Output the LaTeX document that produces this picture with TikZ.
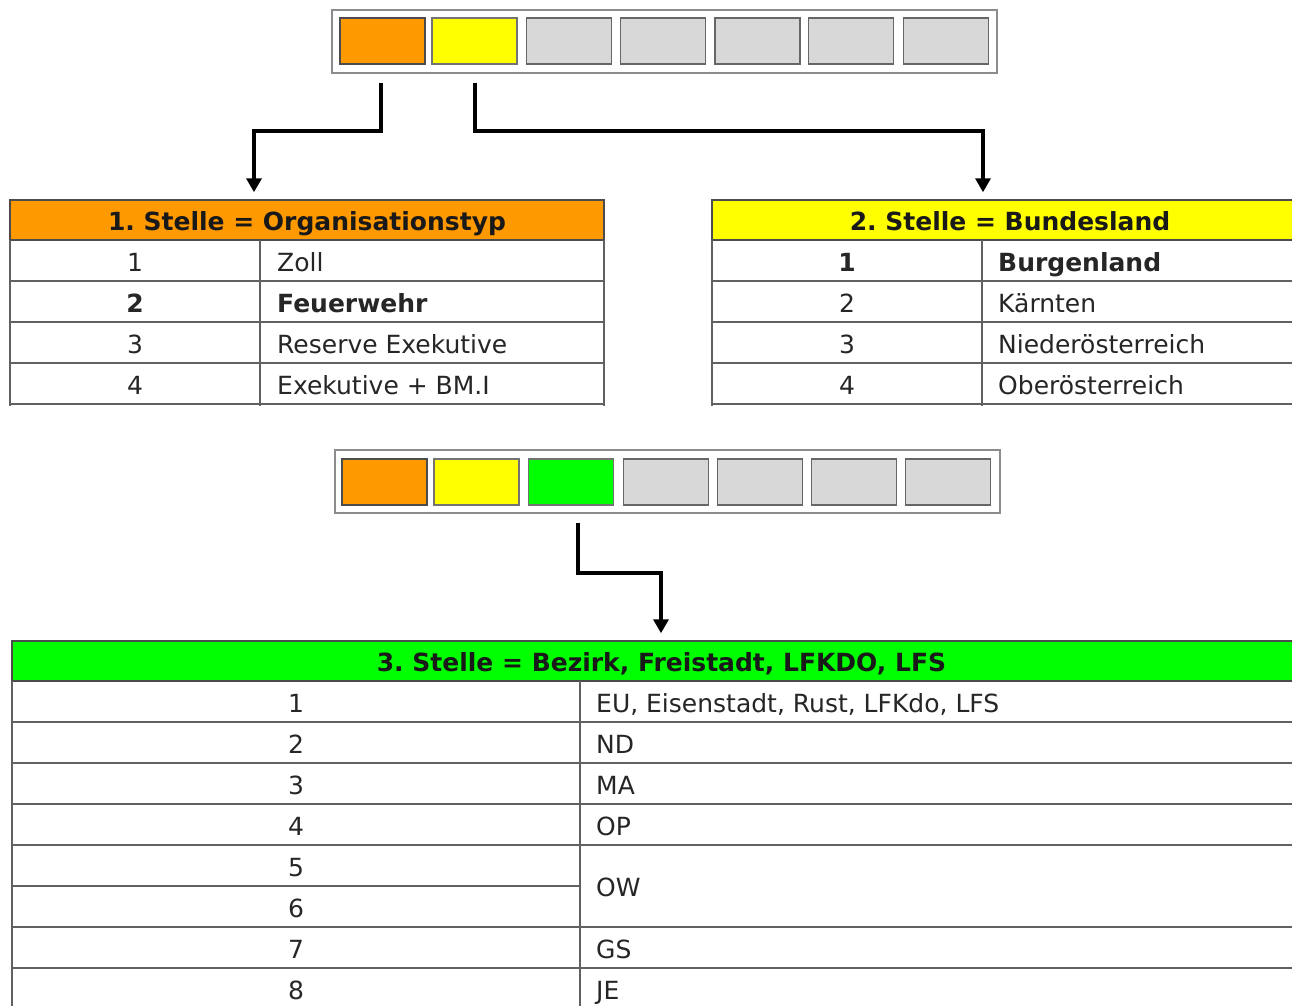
\documentclass[tikz,border=0pt]{standalone}
\usepackage{fontspec}
\setmainfont{DejaVu Sans}
\usetikzlibrary{arrows.meta}
\definecolor{orgC}{HTML}{FF9900}
\definecolor{yelC}{HTML}{FFFF00}
\definecolor{grnC}{HTML}{00FF00}
\definecolor{gryC}{HTML}{D8D8D8}
\definecolor{txtC}{HTML}{262626}
\begin{document}
\frenchspacing
\begin{tikzpicture}[x=1pt,y=-1pt,
  font=\fontsize{25}{30}\selectfont,
  frame/.style={draw=black!45, fill=white, line width=1.5pt},
  cell/.style={draw=black!60, line width=1.5pt, minimum width=85pt, minimum height=46pt, inner sep=0pt},
  conn/.style={line width=4pt, -{Triangle[width=15pt,length=14pt]}, shorten >=7pt},
  hdr/.style={draw=black!70, line width=1.5pt, inner sep=0pt, text height=20pt, text depth=0pt, font=\fontsize{25}{30}\selectfont\bfseries, text=black!90},
  grid/.style={draw=black!62, line width=1.5pt},
  num/.style={text=txtC, inner sep=0pt, anchor=center, text height=20pt, text depth=0pt},
  lbl/.style={text=txtC, inner sep=0pt, anchor=west, text height=20pt, text depth=0pt},
  bf/.style={font=\fontsize{25}{30}\selectfont\bfseries}
]
\useasboundingbox (0,0) rectangle (1292,1005);
\clip (0,0) rectangle (1292,1005);
\fill[white] (0,0) rectangle (1292,1005);

% ---------- top bar ----------
\node[frame, minimum width=665pt, minimum height=63pt, inner sep=0pt] (topframe) at (664.5,41.5) {};
\node[cell, fill=orgC, draw=black!70] (t1) at (382.5,41) {};
\node[cell, fill=yelC, draw=black!55] (t2) at (474.5,41) {};
\node[cell, fill=gryC] (t3) at (569,41) {};
\node[cell, fill=gryC] (t4) at (663,41) {};
\node[cell, fill=gryC] (t5) at (757.5,41) {};
\node[cell, fill=gryC] (t6) at (851,41) {};
\node[cell, fill=gryC] (t7) at (946,41) {};

% ---------- table 1 ----------
\node[hdr, fill=orgC, minimum width=594pt, minimum height=40pt] (h1) at (307,220) {1. Stelle = Organisationstyp};
\draw[grid] (10,240) -- (10,406) (604,240) -- (604,406) (260,240) -- (260,406);
\draw[grid] (10,281) -- (604,281) (10,322) -- (604,322) (10,363) -- (604,363) (10,404) -- (604,404);
\node[num] (a1n) at (135,261) {1};
\node[lbl] (a1l) at (277,261) {Zoll};
\node[num, bf] (a2n) at (135,302) {2};
\node[lbl, bf] (a2l) at (277,302) {Feuerwehr};
\node[num] (a3n) at (135,343) {3};
\node[lbl] (a3l) at (277,343) {Reserve Exekutive};
\node[num] (a4n) at (135,384) {4};
\node[lbl] (a4l) at (277,384) {Exekutive + BM.I};

% ---------- table 2 ----------
\node[hdr, fill=yelC, minimum width=596pt, minimum height=40pt] (h2) at (1010,220) {2. Stelle = Bundesland};
\draw[grid] (712,240) -- (712,406) (982,240) -- (982,406);
\draw[grid] (712,281) -- (1310,281) (712,322) -- (1310,322) (712,363) -- (1310,363) (712,404) -- (1310,404);
\node[num, bf] (b1n) at (847,261) {1};
\node[lbl, bf] (b1l) at (998,261) {Burgenland};
\node[num] (b2n) at (847,302) {2};
\node[lbl] (b2l) at (998,302) {Kärnten};
\node[num] (b3n) at (847,343) {3};
\node[lbl] (b3l) at (998,343) {Niederösterreich};
\node[num] (b4n) at (847,384) {4};
\node[lbl] (b4l) at (998,384) {Oberösterreich};

% ---------- connectors top ----------
\draw[conn] ([shift={(-2pt,-18pt)}]t1.south) -- ++(0,-48pt) -| ([xshift=-53pt]h1.north);
\draw[conn] ([shift={(0pt,-18pt)}]t2.south) -- ++(0,-48pt) -| ([xshift=-27pt]h2.north);

% ---------- bottom bar ----------
\node[frame, minimum width=665pt, minimum height=63pt, inner sep=0pt] (botframe) at (667.5,481.5) {};
\node[cell, fill=orgC, draw=black!70] (u1) at (384.5,482) {};
\node[cell, fill=yelC, draw=black!55] (u2) at (476.5,482) {};
\node[cell, fill=grnC, draw=black!55] (u3) at (571,482) {};
\node[cell, fill=gryC] (u4) at (666,482) {};
\node[cell, fill=gryC] (u5) at (760,482) {};
\node[cell, fill=gryC] (u6) at (854,482) {};
\node[cell, fill=gryC] (u7) at (948,482) {};

% ---------- table 3 ----------
\node[hdr, fill=grnC, minimum width=1299pt, minimum height=40pt] (h3) at (661.5,661) {3. Stelle = Bezirk, Freistadt, LFKDO, LFS};
\draw[grid] (12,681) -- (12,1010) (580,681) -- (580,1010);
\draw[grid] (12,722) -- (1312,722) (12,763) -- (1312,763) (12,804) -- (1312,804) (12,845) -- (1312,845)
  (12,886) -- (580,886) (12,927) -- (1312,927) (12,968) -- (1312,968);
\node[num] (c1n) at (296,702) {1};
\node[lbl] (c1l) at (596,702) {EU, Eisenstadt, Rust, LFKdo, LFS};
\node[num] (c2n) at (296,743) {2};
\node[lbl] (c2l) at (596,743) {ND};
\node[num] (c3n) at (296,784) {3};
\node[lbl] (c3l) at (596,784) {MA};
\node[num] (c4n) at (296,825) {4};
\node[lbl] (c4l) at (596,825) {OP};
\node[num] (c5n) at (296,866) {5};
\node[num] (c6n) at (296,907) {6};
\node[lbl] (c56l) at (596,886) {OW};
\node[num] (c7n) at (296,948) {7};
\node[lbl] (c7l) at (596,948) {GS};
\node[num] (c8n) at (296,989) {8};
\node[lbl] (c8l) at (596,989) {JE};

% ---------- connector bottom ----------
\draw[conn] ([shift={(7pt,-17pt)}]u3.south) -- ++(0,-50pt) -| ([xshift=-0.5pt]h3.north);
\end{tikzpicture}
\end{document}
